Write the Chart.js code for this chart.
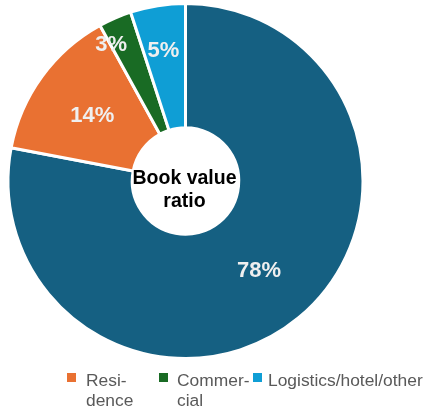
<!DOCTYPE html>
<html>
<head>
<meta charset="utf-8">
<script src="https://cdn.jsdelivr.net/npm/chart.js@4/dist/chart.umd.min.js"></script>
<style>
  html, body { margin: 0; padding: 0; background: #ffffff; }
  #wrap { position: relative; width: 423px; height: 407px; }
</style>
</head>
<body>
<div id="wrap"><canvas id="chart" width="423" height="407"></canvas></div>
<script>
// Book value ratio by asset type (percent)
const categories = ['', 'Residence', 'Commercial', 'Logistics/hotel/other'];
const legendLines = [null, ['Resi-', 'dence'], ['Commer-', 'cial'], ['Logistics/hotel/other']];
const values = [78, 14, 3, 5];
const colors = ['#156082', '#E97132', '#196B24', '#0F9ED5'];
const centerTitle = ['Book value', 'ratio'];

// Where each percentage sits inside its slice: fraction across the ring, angle nudge (deg)
const labelPlacement = [
  { ring: 0.50, nudge: 0 },
  { ring: 0.49, nudge: -0.8 },
  { ring: 0.83, nudge: -5 },
  { ring: 0.645, nudge: -0.5 }
];
// Legend entry positions: swatch x, text x, first baseline
const legendBoxX = [67, 159, 253];
const legendTextX = [86, 177, 268];
const legendBaseline = 386;
const FONT = "'Liberation Sans', Arial, Helvetica, sans-serif";

const sliceLabels = {
  id: 'sliceLabels',
  afterDatasetsDraw(chart) {
    const ctx = chart.ctx;
    const meta = chart.getDatasetMeta(0);
    ctx.save();
    ctx.font = 'bold 22px ' + FONT;
    ctx.fillStyle = '#efefef';
    ctx.textAlign = 'center';
    ctx.textBaseline = 'middle';
    meta.data.forEach((arc, i) => {
      const p = arc.getProps(['x', 'y', 'startAngle', 'endAngle', 'innerRadius', 'outerRadius'], true);
      const pl = labelPlacement[i];
      const a = (p.startAngle + p.endAngle) / 2 + pl.nudge * Math.PI / 180;
      const r = p.innerRadius + pl.ring * (p.outerRadius - p.innerRadius);
      ctx.fillText(values[i] + '%', p.x + Math.cos(a) * r, p.y + Math.sin(a) * r + 1);
    });
    ctx.restore();
  }
};

const centerText = {
  id: 'centerText',
  afterDraw(chart) {
    const ctx = chart.ctx;
    const arc = chart.getDatasetMeta(0).data[0];
    ctx.save();
    ctx.font = 'bold 19.5px ' + FONT;
    ctx.fillStyle = '#000000';
    ctx.textAlign = 'center';
    ctx.textBaseline = 'alphabetic';
    ctx.fillText(centerTitle[0], arc.x - 1, 184);
    ctx.fillText(centerTitle[1], arc.x - 1, 207);
    ctx.restore();
  }
};

const bottomLegend = {
  id: 'bottomLegend',
  afterDraw(chart) {
    const ctx = chart.ctx;
    ctx.save();
    ctx.font = '17.4px ' + FONT;
    ctx.textBaseline = 'alphabetic';
    ctx.textAlign = 'left';
    let k = 0;
    categories.forEach((c, i) => {
      const lines = legendLines[i];
      if (!lines) return;
      ctx.fillStyle = colors[i];
      ctx.fillRect(legendBoxX[k], legendBaseline - 13, 9, 9);
      ctx.fillStyle = '#595959';
      lines.forEach((t, j) => ctx.fillText(t, legendTextX[k], legendBaseline + j * 20));
      k++;
    });
    ctx.restore();
  }
};

new Chart(document.getElementById('chart'), {
  type: 'doughnut',
  data: {
    labels: categories,
    datasets: [{
      data: values,
      backgroundColor: colors,
      borderColor: '#ffffff',
      borderWidth: 3
    }]
  },
  options: {
    responsive: false,
    animation: false,
    events: [],
    cutout: '30%',
    layout: { padding: { left: 0, right: 52, top: 2, bottom: 47 } },
    plugins: {
      legend: { display: false },
      tooltip: { enabled: false }
    }
  },
  plugins: [sliceLabels, centerText, bottomLegend]
});
</script>
</body>
</html>
